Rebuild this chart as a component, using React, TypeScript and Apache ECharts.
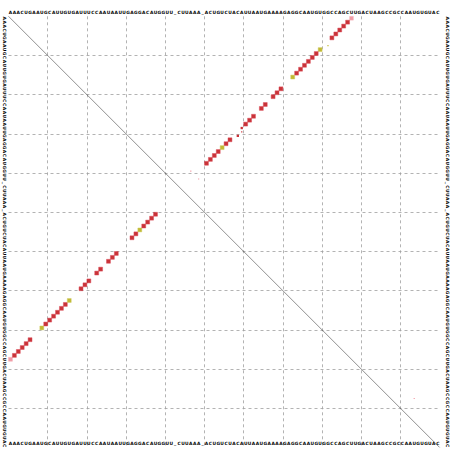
import React, { useEffect, useRef } from "react";
import * as echarts from "echarts";

// consensus sequence (110 columns)
const SEQUENCE =
  "AAACUGAAUGCAUUGUGAUUUCCAAUAAUUGAGGACAUGGUU_CUUAAA_ACUG" +
  "UCUACAUUAAUGAAAAGAGGCAAUGUGGCCAGCUUGACUAAGCCGCCAAUGUGUAC";
const LETTERS = SEQUENCE.split("");
const N = LETTERS.length;

// upper triangle: pair probabilities (i, j, probability, kind: 1 red, 2 ochre, 0 pale)
const upI = [1, 2, 3, 4, 5, 6, 8, 9, 10, 11, 12, 13, 14, 15, 16, 19, 20, 21, 23, 24, 26, 27, 28, 29, 30, 31, 32, 33, 34, 35, 36, 37, 38, 40, 42, 98];
const upJ = [88, 87, 86, 85, 84, 83, 82, 80, 79, 78, 77, 76, 75, 74, 73, 70, 69, 68, 66, 65, 63, 62, 61, 60, 60, 59, 57, 56, 55, 54, 53, 52, 51, 47, 49, 104];
const upP = [0.9, 1, 1, 1, 1, 1, 0.08, 1, 1, 1, 1, 1, 1, 1, 1, 1, 1, 1, 1, 1, 1, 1, 1, 0.35, 0.05, 0.35, 1, 1, 1, 1, 1, 1, 1, 0.04, 0.04, 0.03];
const upK = [0, 1, 1, 1, 1, 1, 2, 2, 1, 1, 1, 1, 1, 1, 2, 1, 1, 1, 1, 1, 1, 1, 1, 1, 1, 1, 1, 1, 2, 1, 1, 1, 1, 0, 0, 0];

// lower triangle: MFE structure pairs
const loI = [1, 2, 3, 4, 5, 6, 9, 10, 11, 12, 13, 14, 15, 16, 19, 20, 21, 23, 24, 26, 27, 28, 32, 33, 34, 35, 36, 37, 38];
const loJ = [88, 87, 86, 85, 84, 83, 80, 79, 78, 77, 76, 75, 74, 73, 70, 69, 68, 66, 65, 63, 62, 61, 57, 56, 55, 54, 53, 52, 51];
const loK = [0, 1, 1, 1, 1, 1, 2, 1, 1, 1, 1, 1, 1, 2, 1, 1, 1, 1, 1, 1, 1, 1, 1, 1, 2, 1, 1, 1, 1];

const KIND_COLOR: Record<number, string> = { 0: "#ee8290", 1: "#bc0006", 2: "#b0a800" };
const KIND_EDGE: Record<number, string> = { 0: "#f6b0b8", 1: "#dc4a58", 2: "#d0cc60" };

export default function App() {
  const ref = useRef<HTMLDivElement>(null);
  useEffect(() => {
    if (!ref.current) return;
    const chart = echarts.init(ref.current, undefined, { renderer: "svg" });
    const CELL = 431.2 / N;
    const mk = (x: number, y: number, p: number, k: number) => {
      const s = Math.max(1.2, CELL * Math.sqrt(p));
      return {
        value: [x - 0.5, y - 0.5],
        symbolSize: s,
        itemStyle: {
          color: KIND_COLOR[k],
          borderColor: KIND_EDGE[k],
          borderWidth: p > 0.5 ? 0.6 : 0,
        },
      };
    };
    const upper = upI.map((i, n) => mk(upJ[n], i, upP[n], upK[n]));
    const lower = loI.map((i, n) => mk(i, loJ[n], 1, loK[n]));

    const letterLabel = {
      interval: 0,
      fontSize: 4.4,
      fontWeight: "bold" as const,
      fontFamily: "DejaVu Sans",
      color: "#000",
    };
    const gridLine = {
      show: true,
      showMinLine: false,
      showMaxLine: false,
      lineStyle: { color: "#a0a0a0", width: 0.8, type: [3, 3] as number[] },
    };
    const hidden = {
      axisLine: { show: false },
      axisTick: { show: false },
    };

    chart.setOption({
      animation: false,
      backgroundColor: "#ffffff",
      grid: {
        left: 8.5,
        top: 16.3,
        width: 431.2,
        height: 431.2,
        containLabel: false,
        outerBoundsMode: "none",
      },
      xAxis: [
        {
          type: "value",
          min: 0,
          max: N,
          interval: 10,
          position: "top",
          ...hidden,
          axisLabel: { show: false },
          splitLine: gridLine,
        },
        {
          type: "category",
          data: LETTERS,
          position: "top",
          ...hidden,
          axisLabel: { ...letterLabel, margin: 2 },
          splitLine: { show: false },
        },
        {
          type: "category",
          data: LETTERS,
          position: "bottom",
          offset: -8,
          ...hidden,
          axisLabel: { ...letterLabel, margin: 1.5 },
          splitLine: { show: false },
        },
      ],
      yAxis: [
        {
          type: "value",
          min: 0,
          max: N,
          interval: 10,
          inverse: true,
          ...hidden,
          axisLabel: { show: false },
          splitLine: gridLine,
        },
        {
          type: "category",
          data: LETTERS,
          inverse: true,
          position: "left",
          ...hidden,
          axisLabel: { ...letterLabel, rotate: -90, margin: 2 },
          splitLine: { show: false },
        },
        {
          type: "category",
          data: LETTERS,
          inverse: true,
          position: "right",
          ...hidden,
          axisLabel: { ...letterLabel, rotate: -90, margin: 5.5 },
          splitLine: { show: false },
        },
      ],
      series: [
        {
          type: "line",
          xAxisIndex: 0,
          yAxisIndex: 0,
          data: [
            [0, 0],
            [N, N],
          ],
          symbol: "none",
          lineStyle: { color: "#444", width: 0.6 },
          silent: true,
        },
        {
          type: "scatter",
          xAxisIndex: 0,
          yAxisIndex: 0,
          symbol: "rect",
          data: upper,
        },
        {
          type: "scatter",
          xAxisIndex: 0,
          yAxisIndex: 0,
          symbol: "rect",
          data: lower,
        },
      ],
    });
    return () => chart.dispose();
  }, []);
  return (
    <div
      ref={ref}
      style={{ position: "absolute", left: 0, top: 0, width: 452, height: 451 }}
    />
  );
}
